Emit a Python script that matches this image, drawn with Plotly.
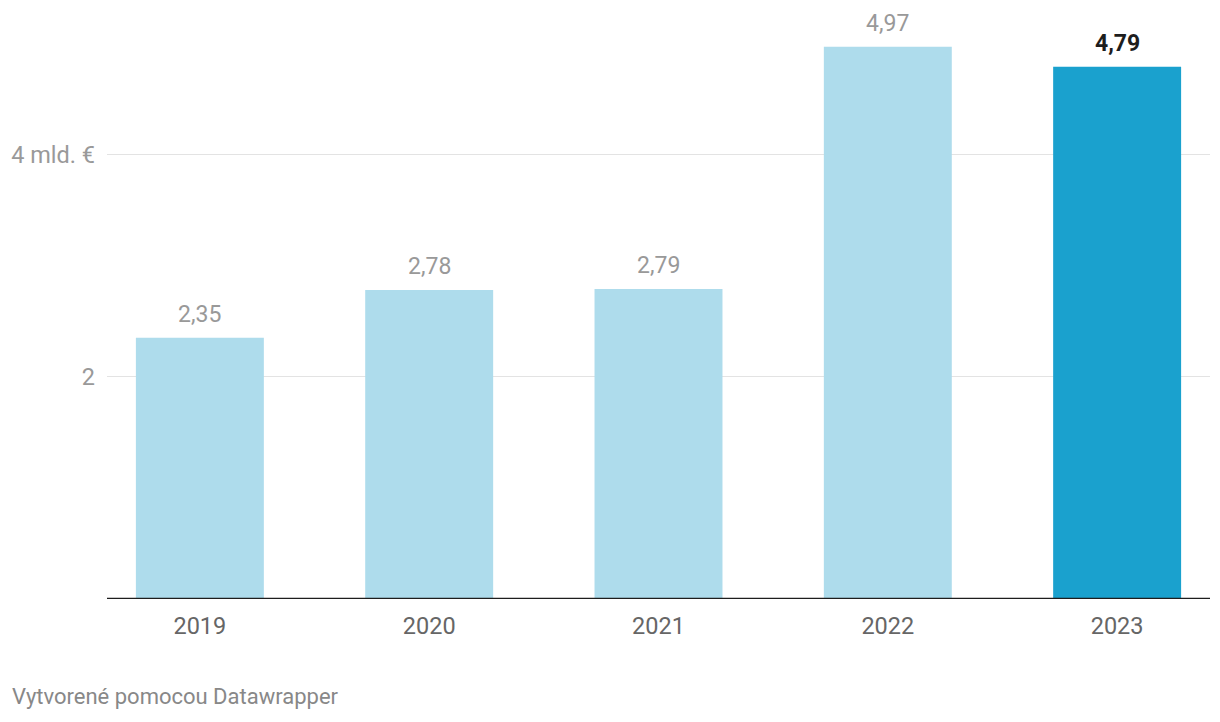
import plotly.graph_objects as go

years = ["2019", "2020", "2021", "2022", "2023"]
values = [2.35, 2.78, 2.79, 4.97, 4.79]
labels = ["2,35", "2,78", "2,79", "4,97", "4,79"]
tick_vals = [2, 4]
tick_text = ["2", "4 mld. €"]
footer = "Vytvorené pomocou Datawrapper"

light = "#aedcec"
dark = "#1aa1ce"
colors = [light, light, light, light, dark]

fig = go.Figure()
fig.add_trace(go.Bar(
    x=years, y=values, marker=dict(color=colors, line=dict(width=0)),
    width=0.558, hoverinfo="skip",
))

for i, (v, lab) in enumerate(zip(values, labels)):
    last = i == len(years) - 1
    fig.add_annotation(
        x=i, y=v, xref="x", yref="y", text=("<b>%s</b>" % lab) if last else lab,
        showarrow=False, yanchor="bottom", yshift=8,
        font=dict(family="Roboto", size=23, color="#1d1d1d" if last else "#999999"),
    )

fig.add_annotation(
    x=-0.088, y=-0.168, xref="paper", yref="paper", text=footer,
    showarrow=False, xanchor="left", yanchor="middle",
    font=dict(family="Roboto", size=22, color="#888888"),
)

fig.add_shape(type="line", xref="paper", yref="y", x0=0, x1=1, y0=0, y1=0,
              line=dict(color="#1d1d1d", width=2.5))

fig.update_layout(
    width=1220, height=722,
    margin=dict(l=107, r=10, t=20, b=123),
    plot_bgcolor="white", paper_bgcolor="white",
    showlegend=False,
    font=dict(family="Roboto"),
    xaxis=dict(
        type="category", range=[-0.405, 4.405], showgrid=False, zeroline=False,
        showline=False, ticks="", ticklabelstandoff=10,
        tickfont=dict(family="Roboto", size=23.5, color="#666666"),
    ),
    yaxis=dict(
        range=[0, 5.21], tickvals=tick_vals, ticktext=tick_text,
        showgrid=True, gridcolor="#e3e3e3", gridwidth=1, zeroline=False,
        showline=False, ticks="", ticklabelstandoff=11,
        tickfont=dict(family="Roboto", size=23.5, color="#999999"),
    ),
)

fig.write_html("out.html")
